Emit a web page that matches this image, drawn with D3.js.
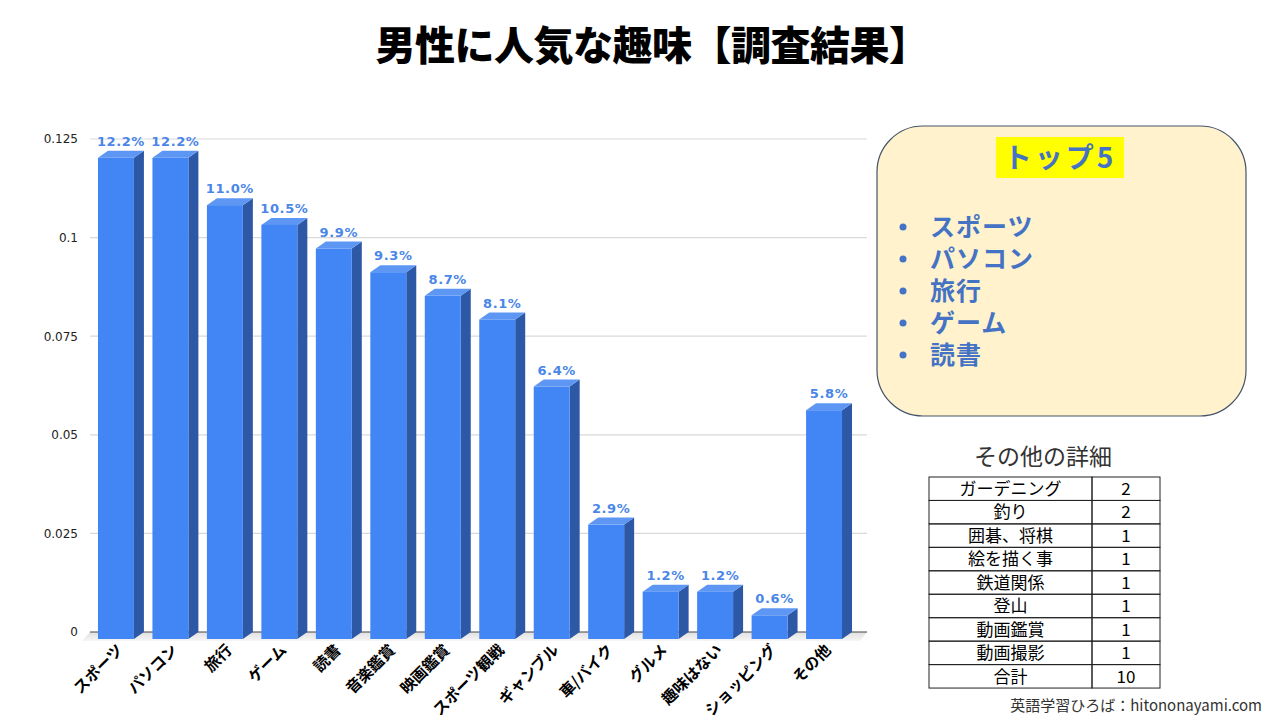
<!DOCTYPE html>
<html>
<head>
<meta charset="utf-8">
<script src="https://cdn.jsdelivr.net/npm/d3@7"></script>
<style>
  body { margin: 0; background: #fff; }
  svg { display: block; font-family: "Noto Sans CJK JP", "Noto Sans", sans-serif; }
</style>
</head>
<body>
<div id="chart"></div>
<script>
// hobby categories and share in percent
var categories = ["スポーツ", "パソコン", "旅行", "ゲーム", "読書", "音楽鑑賞", "映画鑑賞",
  "スポーツ観戦", "ギャンブル", "車/バイク", "グルメ", "趣味はない", "ショッピング", "その他"];
var percents = [12.2, 12.2, 11.0, 10.5, 9.9, 9.3, 8.7, 8.1, 6.4, 2.9, 1.2, 1.2, 0.6, 5.8];
var yTicks = [0, 0.025, 0.05, 0.075, 0.1, 0.125];

var top5 = ["スポーツ", "パソコン", "旅行", "ゲーム", "読書"];

// breakdown of "その他"
var otherNames = ["ガーデニング", "釣り", "囲碁、将棋", "絵を描く事", "鉄道関係", "登山", "動画鑑賞", "動画撮影", "合計"];
var otherCounts = [2, 2, 1, 1, 1, 1, 1, 1, 10];

var width = 1280, height = 720;
var svg = d3.select("#chart").append("svg")
  .attr("width", width)
  .attr("height", height);

// title
svg.append("text")
  .attr("x", 652).attr("y", 60)
  .attr("text-anchor", "middle")
  .style("font-size", "40px")
  .style("font-weight", "900")
  .style("letter-spacing", "-0.5px")
  .attr("fill", "#000")
  .text("男性に人気な趣味【調査結果】");

// scales
var x = d3.scaleBand()
  .domain(categories)
  .range([80, 860])
  .paddingInner(0.34)
  .paddingOuter(0.33);

var y = d3.scaleLinear()
  .domain([0, 0.125])
  .range([632, 139]);

var dx = 10, dy = 7;   // depth of the 3d bars

// grid lines (back wall)
svg.append("g")
  .selectAll("line")
  .data(yTicks.filter(function(d) { return d > 0; }))
  .enter().append("line")
    .attr("x1", 90).attr("x2", 867)
    .attr("y1", function(d) { return y(d); })
    .attr("y2", function(d) { return y(d); })
    .attr("stroke", "#d9d9d9")
    .attr("stroke-width", 1.2);

// floor
var floorGrad = svg.append("defs").append("linearGradient")
  .attr("id", "floor").attr("x1", 0).attr("y1", 0).attr("x2", 0).attr("y2", 1);
floorGrad.append("stop").attr("offset", "0%").attr("stop-color", "#e0e0e0");
floorGrad.append("stop").attr("offset", "100%").attr("stop-color", "#f6f6f6");

svg.append("path")
  .attr("d", "M90," + y(0) + "L867," + y(0) + "L860," + (y(0) + dy + 2) + "L82," + (y(0) + dy + 2) + "Z")
  .attr("fill", "url(#floor)");

svg.append("line")
  .attr("x1", 90).attr("x2", 867)
  .attr("y1", y(0)).attr("y2", y(0))
  .attr("stroke", "#444")
  .attr("stroke-width", 1);

// y axis labels
var yAxis = svg.append("g")
  .attr("transform", "translate(78,0)")
  .call(d3.axisLeft(y).tickValues(yTicks).tickSize(0).tickPadding(0)
    .tickFormat(function(d) { return String(d); }));
yAxis.select(".domain").remove();
yAxis.selectAll("text")
  .style("font-family", "'DejaVu Sans', sans-serif")
  .style("font-size", "12px")
  .attr("fill", "#222");

// bars
var bars = svg.append("g")
  .selectAll("g")
  .data(percents)
  .enter().append("g");

var bw = x.bandwidth();

// side face
bars.append("path")
  .attr("d", function(d, i) {
    var x0 = x(categories[i]) + bw, top = y(d / 100);
    return "M" + x0 + "," + (top + dy) + "L" + (x0 + dx) + "," + top +
      "L" + (x0 + dx) + "," + y(0) + "L" + x0 + "," + (y(0) + dy) + "Z";
  })
  .attr("fill", "#2c58a6");

// top face
bars.append("path")
  .attr("d", function(d, i) {
    var x0 = x(categories[i]), top = y(d / 100);
    return "M" + x0 + "," + (top + dy) + "L" + (x0 + dx) + "," + top +
      "L" + (x0 + bw + dx) + "," + top + "L" + (x0 + bw) + "," + (top + dy) + "Z";
  })
  .attr("fill", "#5d97f3");

// front face
bars.append("rect")
  .attr("x", function(d, i) { return x(categories[i]); })
  .attr("y", function(d) { return y(d / 100) + dy; })
  .attr("width", bw)
  .attr("height", function(d) { return y(0) - y(d / 100); })
  .attr("fill", "#4285f4");

// value labels
bars.append("text")
  .attr("x", function(d, i) { return x(categories[i]) + (bw + dx) / 2; })
  .attr("y", function(d) { return y(d / 100) - 5; })
  .attr("text-anchor", "middle")
  .style("font-family", "'DejaVu Sans', sans-serif")
  .style("font-size", "13px")
  .style("font-weight", "bold")
  .style("letter-spacing", "0.6px")
  .attr("fill", "#4a86e8")
  .text(function(d) { return d.toFixed(1) + "%"; });

// category labels, rotated
svg.append("g")
  .selectAll("text")
  .data(categories)
  .enter().append("text")
    .attr("transform", function(d) {
      return "translate(" + (x(d) + bw / 2 + 8) + ",651) rotate(-45)";
    })
    .attr("text-anchor", "end")
    .style("font-size", "15.5px")
    .style("font-weight", "bold")
    .attr("fill", "#000")
    .text(function(d) { return d; });

// top 5 box
svg.append("rect")
  .attr("x", 877).attr("y", 126)
  .attr("width", 369).attr("height", 290)
  .attr("rx", 46).attr("ry", 46)
  .attr("fill", "#fff2cc")
  .attr("stroke", "#44546a")
  .attr("stroke-width", 1.2);

svg.append("rect")
  .attr("x", 996).attr("y", 137)
  .attr("width", 128).attr("height", 41)
  .attr("fill", "#ffff00");

svg.append("text")
  .attr("x", 1060).attr("y", 168)
  .attr("text-anchor", "middle")
  .style("font-size", "28px")
  .style("font-weight", "bold")
  .style("letter-spacing", "3px")
  .attr("fill", "#4472c4")
  .text("トップ5");

// bullet dots
svg.append("g")
  .selectAll("circle")
  .data(top5)
  .enter().append("circle")
    .attr("cx", 903)
    .attr("cy", function(d, i) { return 227 + i * 32; })
    .attr("r", 3.5)
    .attr("fill", "#4472c4");

// list as one multi-line text block
svg.append("text")
  .attr("y", 236)
  .style("font-size", "25px")
  .style("font-weight", "bold")
  .style("letter-spacing", "1px")
  .attr("fill", "#4472c4")
  .selectAll("tspan")
  .data(top5)
  .enter().append("tspan")
    .attr("x", 930)
    .attr("dy", function(d, i) { return i === 0 ? 0 : 32; })
    .text(function(d) { return d; });

// "その他" detail table
svg.append("text")
  .attr("x", 1043).attr("y", 465)
  .attr("text-anchor", "middle")
  .style("font-size", "23px")
  .attr("fill", "#333")
  .text("その他の詳細");

var tx0 = 929, tx1 = 1092, tx2 = 1160, ty0 = 477, rowH = 23.45;

var rows = svg.append("g")
  .selectAll("g")
  .data(otherNames)
  .enter().append("g")
    .attr("transform", function(d, i) { return "translate(0," + (ty0 + i * rowH) + ")"; });

rows.append("rect")
  .attr("x", tx0).attr("width", tx1 - tx0).attr("height", rowH)
  .attr("fill", "none").attr("stroke", "#222").attr("stroke-width", 1);
rows.append("rect")
  .attr("x", tx1).attr("width", tx2 - tx1).attr("height", rowH)
  .attr("fill", "none").attr("stroke", "#222").attr("stroke-width", 1);

rows.append("text")
  .attr("x", (tx0 + tx1) / 2).attr("y", 18)
  .attr("text-anchor", "middle")
  .style("font-size", "17px")
  .attr("fill", "#000")
  .text(function(d) { return d; });

rows.append("text")
  .attr("x", (tx1 + tx2) / 2).attr("y", 18)
  .attr("text-anchor", "middle")
  .style("font-size", "17px")
  .attr("fill", "#000")
  .text(function(d, i) { return otherCounts[i]; });

// source
svg.append("text")
  .attr("x", 1262).attr("y", 711)
  .attr("text-anchor", "end")
  .style("font-size", "15px")
  .attr("fill", "#333")
  .text("英語学習ひろば：hitononayami.com");
</script>
</body>
</html>
